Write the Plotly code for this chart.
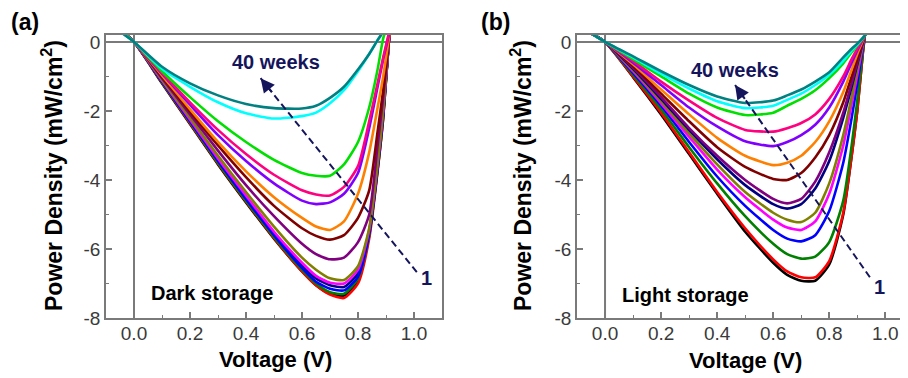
import plotly.graph_objects as go

# ---------------- data ----------------
V_A = [-0.05, 0.0, 0.1, 0.2, 0.3, 0.4, 0.5, 0.6, 0.65, 0.7, 0.75, 0.8, 0.84, 0.87, 0.89, 0.91, 0.93]
# panel (a) dark storage, from week 1 (bottom) to 40 weeks (top)
a_red     = [0.35, 0, -1.18, -2.36, -3.52, -4.62, -5.68, -6.65, -7.05, -7.32, -7.42, -7.0, -5.7, -3.75, -2.2, 0.0, 1.8]
a_black   = [0.35, 0, -1.20, -2.38, -3.55, -4.65, -5.70, -6.65, -7.05, -7.30, -7.35, -6.9, -5.6, -3.7, -2.2, 0.0, 1.8]
a_green   = [0.35, 0, -1.17, -2.33, -3.50, -4.60, -5.65, -6.60, -7.00, -7.25, -7.30, -6.85, -5.6, -3.7, -2.15, 0.0, 1.8]
a_blue    = [0.35, 0, -1.15, -2.30, -3.45, -4.55, -5.60, -6.55, -6.95, -7.15, -7.20, -6.8, -5.55, -3.65, -2.1, 0.0, 1.8]
a_navy    = [0.35, 0, -1.13, -2.27, -3.42, -4.50, -5.55, -6.48, -6.85, -7.05, -7.10, -6.7, -5.5, -3.6, -2.05, 0.0, 1.8]
a_magenta = [0.35, 0, -1.12, -2.25, -3.38, -4.45, -5.50, -6.40, -6.78, -6.98, -7.00, -6.6, -5.45, -3.55, -2.0, 0.0, 1.8]
a_olive   = [0.35, 0, -1.10, -2.20, -3.30, -4.35, -5.35, -6.25, -6.60, -6.85, -6.90, -6.5, -5.4, -3.5, -1.95, 0.0, 1.8]
a_purple  = [0.35, 0, -1.05, -2.10, -3.15, -4.15, -5.05, -5.85, -6.15, -6.30, -6.25, -5.8, -5.0, -3.0, -1.6, 0.0, 1.5]
a_wine    = [0.35, 0, -1.00, -2.02, -3.00, -3.92, -4.75, -5.40, -5.62, -5.73, -5.60, -5.1, -4.3, -2.6, -1.4, 0.05, 1.4]
a_orange  = [0.35, 0, -0.97, -1.95, -2.90, -3.75, -4.50, -5.10, -5.35, -5.45, -5.20, -4.4, -3.2, -1.9, -1.0, 0.1, 1.3]
a_violet  = [0.35, 0, -0.92, -1.82, -2.70, -3.45, -4.10, -4.60, -4.70, -4.65, -4.40, -3.8, -2.5, -1.3, -0.5, 0.2, 1.2]
a_pink    = [0.35, 0, -0.90, -1.75, -2.55, -3.25, -3.85, -4.30, -4.42, -4.45, -4.20, -3.6, -2.3, -1.2, -0.45, 0.25, 1.1]
a_lime    = [0.35, 0, -0.85, -1.60, -2.30, -2.90, -3.42, -3.80, -3.88, -3.88, -3.55, -2.9, -1.9, -0.8, 0.1, 0.6, 1.2]
a_cyan    = [0.30, 0, -0.78, -1.30, -1.75, -2.07, -2.22, -2.15, -2.05, -1.78, -1.40, -0.85, -0.35, 0.05, 0.3, 0.6, 0.9]
a_teal    = [0.30, 0, -0.72, -1.20, -1.55, -1.80, -1.92, -1.93, -1.85, -1.62, -1.30, -0.80, -0.35, 0.05, 0.3, 0.6, 0.9]

V_B = [-0.05, 0.0, 0.1, 0.2, 0.3, 0.4, 0.5, 0.6, 0.65, 0.7, 0.75, 0.8, 0.85, 0.88, 0.9, 0.92, 0.94]
# panel (b) light storage, from week 1 (bottom) to 40 weeks (top)
b_black   = [0.25, 0, -1.02, -2.10, -3.25, -4.40, -5.50, -6.40, -6.75, -6.92, -6.92, -6.45, -5.00, -3.30, -2.00, -0.30, 1.1]
b_red     = [0.25, 0, -1.00, -2.05, -3.20, -4.35, -5.40, -6.30, -6.65, -6.82, -6.82, -6.35, -4.95, -3.30, -2.00, -0.30, 1.1]
b_green   = [0.25, 0, -0.95, -1.95, -3.05, -4.10, -5.05, -5.85, -6.15, -6.28, -6.22, -5.80, -4.60, -3.00, -1.70, -0.25, 1.0]
b_blue    = [0.25, 0, -0.90, -1.85, -2.90, -3.90, -4.75, -5.45, -5.70, -5.78, -5.60, -4.90, -3.50, -2.20, -1.20, -0.15, 0.9]
b_magenta = [0.25, 0, -0.85, -1.78, -2.75, -3.70, -4.50, -5.15, -5.38, -5.45, -5.20, -4.40, -3.00, -1.80, -0.95, -0.10, 0.8]
b_olive   = [0.25, 0, -0.82, -1.72, -2.65, -3.55, -4.35, -4.95, -5.15, -5.22, -4.95, -4.10, -2.70, -1.60, -0.80, -0.05, 0.75]
b_navy    = [0.25, 0, -0.78, -1.65, -2.55, -3.40, -4.15, -4.70, -4.83, -4.70, -4.25, -3.45, -2.20, -1.30, -0.65, 0.00, 0.7]
b_purple  = [0.25, 0, -0.75, -1.60, -2.50, -3.30, -4.00, -4.55, -4.68, -4.55, -4.05, -3.20, -2.05, -1.20, -0.60, 0.00, 0.65]
b_wine    = [0.25, 0, -0.70, -1.50, -2.30, -3.05, -3.62, -3.97, -4.00, -3.80, -3.35, -2.70, -1.75, -1.00, -0.50, 0.02, 0.6]
b_orange  = [0.25, 0, -0.65, -1.38, -2.10, -2.78, -3.30, -3.57, -3.50, -3.30, -2.90, -2.30, -1.45, -0.80, -0.35, 0.05, 0.5]
b_violet  = [0.25, 0, -0.60, -1.25, -1.90, -2.45, -2.88, -3.02, -2.90, -2.70, -2.40, -1.90, -1.15, -0.60, -0.25, 0.08, 0.45]
b_pink    = [0.25, 0, -0.55, -1.15, -1.70, -2.20, -2.55, -2.60, -2.50, -2.35, -2.10, -1.65, -1.00, -0.50, -0.20, 0.10, 0.4]
b_lime    = [0.25, 0, -0.50, -1.00, -1.50, -1.90, -2.12, -2.05, -1.85, -1.65, -1.40, -1.05, -0.62, -0.30, -0.10, 0.10, 0.35]
b_cyan    = [0.25, 0, -0.45, -0.92, -1.35, -1.72, -1.92, -1.85, -1.68, -1.50, -1.25, -0.95, -0.55, -0.25, -0.08, 0.12, 0.32]
b_teal    = [0.25, 0, -0.42, -0.85, -1.25, -1.58, -1.77, -1.70, -1.55, -1.38, -1.15, -0.88, -0.45, -0.20, -0.05, 0.12, 0.3]

COLORS = {
    "black": "#000000", "red": "#FF0000", "green": "#008000", "blue": "#0000FF",
    "magenta": "#FF00FF", "olive": "#808000", "navy": "#000080", "purple": "#800080",
    "wine": "#800000", "orange": "#FF8000", "violet": "#8000FF", "pink": "#FF0080",
    "lime": "#00E000", "cyan": "#00FFFF", "teal": "#008080",
}

SERIES_A = [("black", a_black), ("red", a_red), ("green", a_green), ("navy", a_navy),
            ("blue", a_blue), ("magenta", a_magenta), ("olive", a_olive), ("purple", a_purple),
            ("wine", a_wine), ("orange", a_orange), ("violet", a_violet), ("pink", a_pink),
            ("lime", a_lime), ("cyan", a_cyan), ("teal", a_teal)]
SERIES_B = [("black", b_black), ("red", b_red), ("green", b_green), ("blue", b_blue),
            ("magenta", b_magenta), ("olive", b_olive), ("navy", b_navy), ("purple", b_purple),
            ("wine", b_wine), ("orange", b_orange), ("violet", b_violet), ("pink", b_pink),
            ("lime", b_lime), ("cyan", b_cyan), ("teal", b_teal)]

X_TICKS = [0.0, 0.2, 0.4, 0.6, 0.8, 1.0]
X_TICKTEXT = ["0.0", "0.2", "0.4", "0.6", "0.8", "1.0"]
Y_TICKS = [0, -2, -4, -6, -8]
Y_TICKTEXT = ["0", "-2", "-4", "-6", "-8"]

# arrow (tail -> head)
ARROW_A = [(1.01, -6.67), (0.452, -1.05)]
ARROW_B = [(0.945, -6.82), (0.464, -1.25)]

FONT = "Liberation Sans, Arial, sans-serif"
NAVY = "#15155C"
AXC = "#7a7a7a"

# page body has an 8 px margin: the figure is drawn at (8, 8) of the window
OFF = 8
W, H = 900.0, 370.0
TOP, BOT = 35, 318          # plot area top/bottom in window pixels

fig = go.Figure()

for (name, ys) in SERIES_A:
    fig.add_trace(go.Scatter(x=V_A, y=ys, mode="lines",
                             line=dict(color=COLORS[name], width=2.6, shape="spline", smoothing=0.6),
                             xaxis="x", yaxis="y", showlegend=False, hoverinfo="skip"))
for (name, ys) in SERIES_B:
    fig.add_trace(go.Scatter(x=V_B, y=ys, mode="lines",
                             line=dict(color=COLORS[name], width=2.6, shape="spline", smoothing=0.6),
                             xaxis="x2", yaxis="y2", showlegend=False, hoverinfo="skip"))

# dashed arrows
for arrow, xr, yr in [(ARROW_A, "x", "y"), (ARROW_B, "x2", "y2")]:
    (x0, y0), (x1, y1) = arrow
    fig.add_trace(go.Scatter(x=[x0, x1], y=[y0, y1], mode="lines",
                             line=dict(color=NAVY, width=2, dash="7px,4px"),
                             xaxis=xr, yaxis=yr, showlegend=False, hoverinfo="skip"))
    fx = x1 + (x0 - x1) * 0.08
    fy = y1 + (y0 - y1) * 0.08
    fig.add_annotation(x=x1, y=y1, ax=fx, ay=fy, xref=xr, yref=yr, axref=xr, ayref=yr,
                       text="", showarrow=True, arrowhead=2, arrowsize=1.4, arrowwidth=2, arrowcolor=NAVY)

common_x = dict(showline=True, linecolor=AXC, linewidth=1.5, mirror=True,
                ticks="inside", ticklen=6, tickwidth=1.5, tickcolor=AXC,
                tickvals=X_TICKS, ticktext=X_TICKTEXT, showgrid=False, zeroline=False,
                tickfont=dict(family=FONT, size=19, color="#3a3a3a"), ticklabelstandoff=-3,
                minor=dict(tickvals=[0.1, 0.3, 0.5, 0.7, 0.9], ticks="inside", ticklen=3, tickwidth=1.2, tickcolor=AXC))
common_y = dict(range=[-8, 0.2], showline=True, linecolor=AXC, linewidth=1.5,
                ticks="inside", ticklen=6, tickwidth=1.5, tickcolor=AXC,
                tickvals=Y_TICKS, ticktext=Y_TICKTEXT, showgrid=False, zeroline=False,
                tickfont=dict(family=FONT, size=19, color="#3a3a3a"),
                minor=dict(tickvals=[-1, -3, -5, -7], ticks="inside", ticklen=3, tickwidth=1.2, tickcolor=AXC))

def px_x(px):
    return (px - OFF) / W

def px_y(py):
    return (BOT - py) / (BOT - TOP)

xa = dict(common_x); xa.update(range=[-0.1, 1.1], domain=[px_x(106), px_x(442)], anchor="y")
xb = dict(common_x); xb.update(range=[-0.1, 1.081], domain=[px_x(577), 1.0], anchor="y2")
ya = dict(common_y); ya.update(domain=[0, 1], anchor="x", mirror=True)
yb = dict(common_y); yb.update(domain=[0, 1], anchor="x2", mirror=False)

fig.update_layout(
    width=W, height=H, margin=dict(l=0, r=0, t=TOP - OFF, b=H - (BOT - OFF)),
    paper_bgcolor="white", plot_bgcolor="white",
    xaxis=xa, yaxis=ya, xaxis2=xb, yaxis2=yb,
    font=dict(family=FONT),
)

# zero lines (gray) inside each panel
for xr, yr in [("x", "y"), ("x2", "y2")]:
    fig.add_shape(type="line", xref=f"{xr} domain", yref=yr, x0=0, x1=1, y0=0, y1=0,
                  line=dict(color=AXC, width=2), layer="below")
    fig.add_shape(type="line", xref=xr, yref=f"{yr} domain", x0=0, x1=0, y0=0, y1=1,
                  line=dict(color=AXC, width=2), layer="below")

def ann(text, x, y, xref, yref, size, color="black", bold=True, xanchor="center", angle=0):
    fig.add_annotation(text=f"<b>{text}</b>" if bold else text, x=x, y=y, xref=xref, yref=yref,
                       showarrow=False, xanchor=xanchor, yanchor="middle", textangle=angle,
                       font=dict(family=FONT, size=size, color=color))

# panel labels
ann("(a)", px_x(25), px_y(22), "paper", "paper", 23)
ann("(b)", px_x(495), px_y(22), "paper", "paper", 23)
# axis titles
ann("Voltage (V)", px_x(275), px_y(359), "paper", "paper", 22)
ann("Voltage (V)", px_x(745), px_y(360), "paper", "paper", 22)
ann("Power Density (mW/cm<sup>2</sup>)", px_x(52), px_y(176), "paper", "paper", 23, angle=-90)
ann("Power Density (mW/cm<sup>2</sup>)", px_x(521), px_y(176), "paper", "paper", 23, angle=-90)
# in-plot labels
ann("40 weeks", 0.506, -0.59, "x", "y", 20, color=NAVY)
ann("1", 1.045, -6.85, "x", "y", 20, color=NAVY)
ann("Dark storage", 0.053, -7.28, "x", "y", 20, xanchor="left")
ann("40 weeks", 0.464, -0.82, "x2", "y2", 20, color=NAVY)
ann("1", 0.981, -7.11, "x2", "y2", 20, color=NAVY)
ann("Light storage", 0.055, -7.34, "x2", "y2", 20, xanchor="left")

fig.write_html("out.html")
